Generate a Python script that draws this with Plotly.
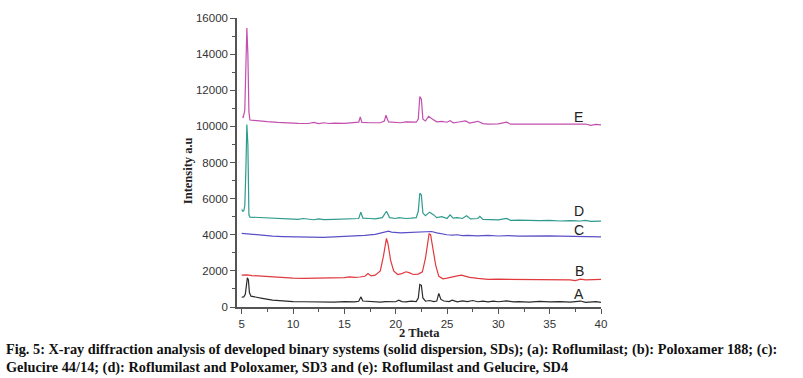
import plotly.graph_objects as go

# ---- data ----
a_x = [5.0, 5.2, 5.35, 5.45, 5.55, 5.65, 5.75, 5.9, 6.2, 7, 8, 9, 10, 11, 12, 13, 14, 15, 16, 16.4, 16.6, 16.8,
       17.5, 18, 18.5, 19, 19.5, 20, 20.3, 20.6, 21, 21.5, 22, 22.2, 22.35, 22.5, 22.65, 22.9, 23.3, 23.7, 24.0,
       24.2, 24.4, 24.7, 25.2, 25.5, 26, 26.5, 27, 27.5, 28, 28.5, 29, 29.5, 30, 30.8, 31.5, 32, 33, 34, 35, 36,
       37, 37.5, 38, 38.5, 39, 39.5, 40]
a_y = [550, 560, 700, 1400, 1620, 1500, 800, 600, 560, 480, 380, 330, 300, 290, 280, 290, 270, 300, 280, 320,
       560, 330, 290, 300, 270, 300, 280, 290, 380, 300, 280, 330, 300, 500, 1250, 1200, 500, 320, 360, 300, 330,
       750, 420, 330, 300, 380, 290, 340, 300, 360, 290, 320, 280, 330, 290, 340, 280, 300, 270, 310, 280, 300,
       270, 300, 330, 260, 280, 300, 260]

b_x = [5, 5.5, 6, 7, 8, 9, 10, 11, 12, 13, 14, 15, 15.5, 16, 16.5, 17, 17.3, 17.6, 18, 18.5, 18.8, 19.0, 19.1,
       19.25, 19.5, 19.8, 20.2, 20.6, 21.0, 21.3, 21.7, 22.2, 22.6, 22.9, 23.1, 23.25, 23.4, 23.6, 23.9, 24.2,
       24.6, 25, 25.5, 26, 26.4, 26.8, 27.2, 28, 29, 30, 31, 32, 33, 34, 35, 36, 37, 37.5, 38, 38.5, 39, 40]
b_y = [1760, 1780, 1740, 1700, 1680, 1640, 1600, 1590, 1600, 1580, 1610, 1630, 1670, 1640, 1660, 1700, 1850,
       1720, 1760, 2000, 2800, 3600, 3800, 3500, 2600, 2000, 1800, 1850, 1950, 1900, 1800, 1820, 1950, 2700,
       3600, 4050, 4000, 3400, 2300, 1700, 1560, 1600, 1640, 1720, 1760, 1700, 1640, 1580, 1530, 1540, 1530,
       1520, 1530, 1510, 1530, 1510, 1500, 1460, 1540, 1500, 1520, 1530]

c_x = [5, 6, 7, 8, 9, 10, 11, 12, 13, 14, 15, 16, 17, 18, 18.5, 19, 19.3, 19.6, 20, 20.5, 21, 21.5, 22, 22.5,
       23, 23.5, 24, 24.5, 25, 25.5, 26, 26.5, 27, 28, 29, 30, 31, 32, 33, 34, 35, 36, 37, 38, 38.5, 39, 40]
c_y = [4080, 4020, 3960, 3920, 3900, 3880, 3870, 3880, 3860, 3880, 3900, 3920, 3960, 4020, 4080, 4150, 4200,
       4150, 4120, 4100, 4120, 4140, 4150, 4180, 4200, 4180, 4100, 4040, 4000, 3980, 4000, 3950, 3970, 3940,
       3960, 3930, 3950, 3920, 3940, 3930, 3940, 3920, 3900, 3880, 3900, 3870, 3880]

d_x = [5.0, 5.1, 5.2, 5.3, 5.4, 5.5, 5.6, 5.7, 5.8, 6.5, 7.5, 8.5, 9.5, 10.5, 11, 11.5, 12, 12.5, 13, 14, 15,
       15.5, 16, 16.4, 16.6, 16.8, 17.5, 18, 18.7, 19.1, 19.4, 20, 20.3, 21, 21.5, 22.0, 22.2, 22.35, 22.5,
       22.65, 22.9, 23.3, 23.7, 24.0, 24.5, 25, 25.3, 25.6, 26, 26.5, 26.9, 27.3, 28, 28.2, 28.5, 29, 30, 30.8,
       31.2, 32, 33, 34, 35, 36, 37, 38, 38.5, 39, 40]
d_y = [5400, 5300, 5320, 5600, 7500, 10100, 9000, 5100, 4980, 4960, 4920, 4900, 4870, 4850, 4900, 4850, 4830,
       4880, 4840, 4850, 4860, 4880, 4860, 4900, 5250, 4920, 4900, 4880, 4950, 5300, 4950, 4900, 4950, 4900,
       4920, 4950, 5300, 6300, 6200, 5200, 5050, 5250, 5100, 4950, 5000, 4900, 5100, 4920, 4950, 4900, 5050,
       4880, 4900, 5020, 4850, 4850, 4820, 4900, 4800, 4810, 4790, 4780, 4800, 4760, 4780, 4760, 4800, 4740,
       4750]

e_x = [5.05, 5.15, 5.3, 5.4, 5.5, 5.6, 5.7, 5.8, 6.5, 7.5, 8.5, 9.5, 10.5, 11.5, 12, 12.5, 13, 13.5, 14, 15,
       16, 16.4, 16.55, 16.7, 17.5, 18.5, 18.9, 19.05, 19.3, 20, 20.5, 21, 21.5, 22, 22.2, 22.35, 22.5, 22.65,
       22.9, 23.2, 23.6, 24, 24.5, 25, 25.3, 25.6, 26, 26.8, 27.2, 28, 28.5, 29, 30, 30.8, 31.2, 32, 34, 36,
       37, 37.5, 38, 38.5, 39, 39.5, 40]
e_y = [10530, 10500, 10900, 13000, 15450, 14000, 10800, 10350, 10300, 10260, 10220, 10180, 10170, 10160, 10220,
       10150, 10200, 10160, 10180, 10170, 10200, 10230, 10530, 10220, 10200, 10200, 10300, 10620, 10250, 10220,
       10200, 10250, 10220, 10230, 10400, 11650, 11500, 10400, 10300, 10560, 10400, 10250, 10280, 10230, 10320,
       10200, 10230, 10300, 10180, 10280, 10150, 10130, 10140, 10230, 10120, 10120, 10110, 10110, 10100, 10120,
       10090, 10130, 10060, 10110, 10080]

series_names = ["A", "B", "C", "D", "E"]
series_x = [a_x, b_x, c_x, d_x, e_x]
series_y = [a_y, b_y, c_y, d_y, e_y]
colors = ["#2a2a2a", "#e0393e", "#5a4fc8", "#2f9a8e", "#c24fae"]
label_x = [37.9, 37.9, 37.9, 37.9, 37.85]
label_y = [700, 2020, 4250, 5320, 10500]

caption1 = ("Fig. 5: X-ray diffraction analysis of developed binary systems (solid dispersion, SDs); "
            "(a): Roflumilast; (b): Poloxamer 188; (c):")
caption2 = "Gelucire 44/14; (d): Roflumilast and Poloxamer, SD3 and (e): Roflumilast and Gelucire, SD4"

fig = go.Figure()
for name, xs, ys, col in zip(series_names, series_x, series_y, colors):
    fig.add_trace(go.Scatter(x=xs, y=ys, mode="lines", name=name,
                             line=dict(color=col, width=1.2), showlegend=False))

for name, lx, ly in zip(series_names, label_x, label_y):
    fig.add_annotation(x=lx, y=ly, text=name, showarrow=False, xanchor="center", yanchor="middle",
                       font=dict(family="Arial, Liberation Sans", size=14, color="#222"))

axis_common = dict(showline=True, linecolor="#555", linewidth=1.5, ticks="outside", ticklen=5,
                   tickwidth=1.2, tickcolor="#555", showgrid=False, zeroline=False,
                   tickfont=dict(family="Arial, Liberation Sans", size=11.5, color="#333"))

fig.update_xaxes(range=[4.54, 40.0], tickmode="linear", tick0=5, dtick=5,
                 minor=dict(ticks="outside", ticklen=3, tickcolor="#555", dtick=2.5, tick0=5),
                 **axis_common)
fig.update_yaxes(range=[0, 16000], tickmode="linear", tick0=0, dtick=2000, tickformat="d",
                 minor=dict(ticks="outside", ticklen=3, tickcolor="#555", dtick=1000, tick0=0),
                 **axis_common)

title_font = dict(family="Liberation Serif, Times New Roman", size=12.5, color="#222")
fig.add_annotation(xref="paper", yref="paper", x=0.5, y=0, yshift=-26, text="<b>2 Theta</b>",
                   showarrow=False, xanchor="center", yanchor="middle", font=title_font)
fig.add_annotation(xref="paper", yref="paper", x=0, xshift=-49, y=0.47, text="<b>Intensity a.u</b>",
                   textangle=-90, showarrow=False, xanchor="center", yanchor="middle", font=title_font)

cap_font = dict(family="Liberation Serif, Times New Roman", size=14.3, color="#111")
fig.add_annotation(xref="paper", yref="paper", x=0, xshift=-233, y=0, yshift=-42, text="<b>" + caption1 + "</b>",
                   showarrow=False, xanchor="left", yanchor="middle", font=cap_font)
fig.add_annotation(xref="paper", yref="paper", x=0, xshift=-233, y=0, yshift=-60, text="<b>" + caption2 + "</b>",
                   showarrow=False, xanchor="left", yanchor="middle", font=cap_font)

fig.update_layout(width=803, height=378, margin=dict(l=237, r=202, t=15, b=71),
                  paper_bgcolor="white", plot_bgcolor="white")

fig.write_html("out.html", config={"displayModeBar": False},
               post_script="document.body.style.margin='0';document.body.style.overflow='hidden';")
